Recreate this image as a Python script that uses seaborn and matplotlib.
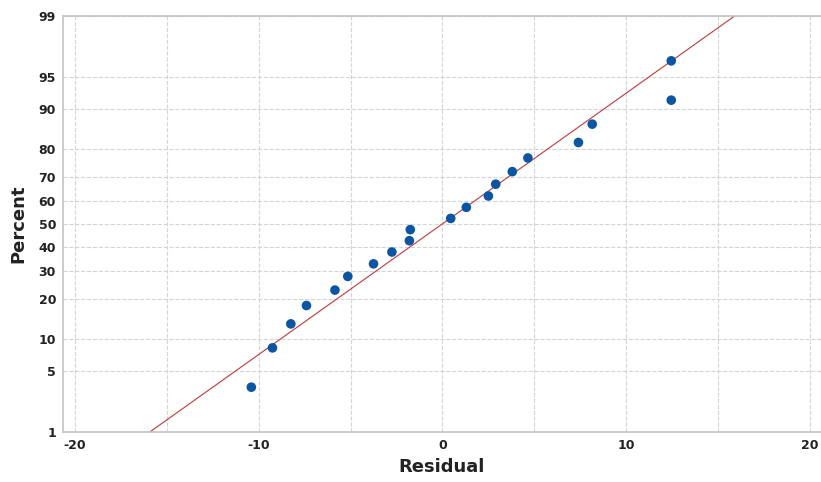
import numpy as np
import matplotlib
matplotlib.use('agg')
import matplotlib.pyplot as plt
import seaborn as sns
from statistics import NormalDist

# Residuals (sorted) and their plotted percent positions
residuals = [-10.4, -9.25, -8.25, -7.4, -5.85, -5.15, -3.75, -2.75, -1.8, -1.75,
             0.45, 1.3, 2.5, 2.9, 3.8, 4.65, 7.4, 8.15, 12.45, 12.45]
percent = [3.4, 8.3, 13.2, 18.1, 23.0, 27.9, 32.8, 37.7, 42.6, 47.5,
           52.5, 57.4, 62.3, 67.2, 72.1, 77.0, 81.9, 86.8, 91.7, 96.6]

y_ticks = [1, 5, 10, 20, 30, 40, 50, 60, 70, 80, 90, 95, 99]
x_ticks = [-20, -10, 0, 10, 20]
x_minor = [-15, -5, 5, 15]

_nd = NormalDist()
_ppf = np.vectorize(_nd.inv_cdf, otypes=[float])
_cdf = np.vectorize(_nd.cdf, otypes=[float])


def prob_forward(p):
    p = np.clip(np.asarray(p, dtype=float) / 100.0, 1e-9, 1 - 1e-9)
    return _ppf(p)


def prob_inverse(z):
    return _cdf(np.asarray(z, dtype=float)) * 100.0


sns.set_style('white')
plt.rcParams['font.family'] = ['DejaVu Sans']

fig = plt.figure(figsize=(8.21, 4.82), dpi=100)
ax = fig.add_axes([0.0767, 0.1037, 0.9233, 0.8631])
ax.set_yscale('function', functions=(prob_forward, prob_inverse))

# fitted normal line from the data
mu = np.mean(residuals)
sigma = np.std(residuals, ddof=1)
line_pct = np.linspace(1, 99, 200)
line_x = mu + sigma * prob_forward(line_pct)
sns.lineplot(x=line_x, y=line_pct, ax=ax, color='#C0393B', linewidth=0.8,
             sort=False, zorder=2)

sns.scatterplot(x=residuals, y=percent, ax=ax, color='#0B55A3', s=48,
                edgecolor='none', zorder=3)

ax.set_xlim(-20.65, 20.6)
ax.set_ylim(1, 99)
ax.set_xticks(x_ticks)
ax.set_xticks(x_minor, minor=True)
ax.set_yticks(y_ticks)
ax.set_yticklabels([str(t) for t in y_ticks])
ax.set_xticklabels([str(t) for t in x_ticks])

ax.grid(True, which='major', color='#D4D4D4', linestyle='--', linewidth=0.8)
ax.grid(True, which='minor', axis='x', color='#D4D4D4', linestyle='--', linewidth=0.8)
ax.set_axisbelow(True)

for side in ['left', 'bottom', 'top']:
    ax.spines[side].set_color('#C4C4C4')
    ax.spines[side].set_linewidth(1.2)
ax.spines['right'].set_visible(False)

ax.tick_params(axis='both', which='major', length=3, width=0.8, color='#B0B0B0',
               labelsize=9, labelcolor='#222222', pad=2)
ax.tick_params(axis='x', which='minor', length=0)
for lbl in ax.get_xticklabels() + ax.get_yticklabels():
    lbl.set_fontweight('bold')

ax.set_xlabel('Residual', fontsize=13, fontweight='bold', color='#222222', labelpad=4)
ax.set_ylabel('Percent', fontsize=13, fontweight='bold', color='#222222', labelpad=8)

fig.savefig('out.png', dpi=100)
plt.close(fig)
